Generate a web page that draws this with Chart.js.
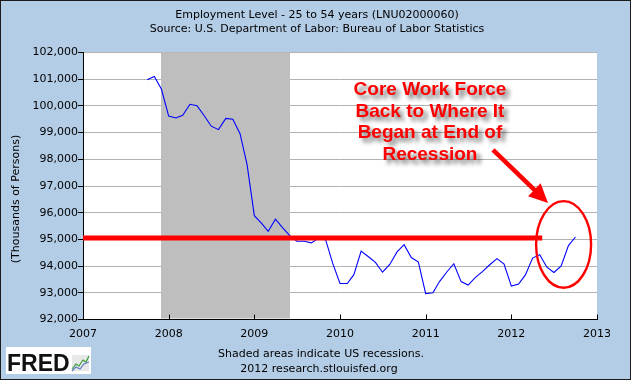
<!DOCTYPE html>
<html><head><meta charset="utf-8">
<script src="https://cdn.jsdelivr.net/npm/chart.js@4"></script>
<style>html,body{margin:0;padding:0;background:#b4cde6;}canvas{display:block}</style>
</head><body>
<canvas id="c" width="631" height="380"></canvas>
<script>
// ---- data ----
const months = [
 '2007-10','2007-11','2007-12',
 '2008-01','2008-02','2008-03','2008-04','2008-05','2008-06','2008-07','2008-08','2008-09','2008-10','2008-11','2008-12',
 '2009-01','2009-02','2009-03','2009-04','2009-05','2009-06','2009-07','2009-08','2009-09','2009-10','2009-11','2009-12',
 '2010-01','2010-02','2010-03','2010-04','2010-05','2010-06','2010-07','2010-08','2010-09','2010-10','2010-11','2010-12',
 '2011-01','2011-02','2011-03','2011-04','2011-05','2011-06','2011-07','2011-08','2011-09','2011-10','2011-11','2011-12',
 '2012-01','2012-02','2012-03','2012-04','2012-05','2012-06','2012-07','2012-08','2012-09','2012-10'];
const employment = [
 100975,101100,100630,
 99620,99550,99650,100060,100010,99630,99240,99110,99530,99500,98960,97800,
 95890,95600,95300,95760,95440,95140,94930,94930,94870,95040,94980,94100,
 93350,93350,93680,94560,94360,94140,93770,94060,94530,94800,94320,94150,
 92970,93000,93420,93780,94090,93420,93290,93580,93800,94050,94280,94080,
 93250,93330,93670,94300,94430,93960,93760,94010,94770,95090];
const yearTicks = [2007,2008,2009,2010,2011,2012,2013];
const yMin = 92000, yMax = 102000, yStep = 1000;
const recession = ['2007-12','2009-06'];
const levelLine = {from:'2007-01', to:'2012-05', value:95050};
const noteLines = ['Core Work Force','Back to Where It','Began at End of','Recession'];
const titleLines = ['Employment Level - 25 to 54 years (LNU02000060)','Source: U.S. Department of Labor: Bureau of Labor Statistics'];
const footerLines = ['Shaded areas indicate US recessions.','2012 research.stlouisfed.org'];
const yAxisTitle = '(Thousands of Persons)';

// month string -> decimal year (date based)
function xOf(s){const [y,m]=s.split('-').map(Number);const t0=Date.UTC(y,0,1),t1=Date.UTC(y+1,0,1);return y+(Date.UTC(y,m-1,1)-t0)/(t1-t0);}

const seriesPts = months.map((m,i)=>({x:xOf(m),y:employment[i]}));
const levelPts = [{x:xOf(levelLine.from),y:levelLine.value},{x:xOf(levelLine.to)+0.03,y:levelLine.value}];

const FONT = 'DejaVu Sans, Verdana, sans-serif';

const decor = {
  id:'decor',
  beforeDraw(chart){
    const {ctx,chartArea:ca}=chart;
    ctx.save();
    ctx.fillStyle='#b4cde6';ctx.fillRect(0,0,chart.width,chart.height);
    ctx.fillStyle='#ffffff';ctx.fillRect(ca.left,ca.top,ca.right-ca.left,ca.bottom-ca.top);
    ctx.restore();
  },
  beforeDatasetsDraw(chart){
    const {ctx,chartArea:ca,scales:{x}}=chart;
    const x0=x.getPixelForValue(xOf(recession[0])), x1=x.getPixelForValue(xOf(recession[1]));
    ctx.save();ctx.fillStyle='#bebebe';
    ctx.fillRect(Math.round(x0),ca.top,Math.round(x1)-Math.round(x0),ca.bottom-ca.top-1);
    ctx.restore();
  },
  afterDatasetsDraw(chart){
    const {ctx,chartArea:ca,scales:{x,y}}=chart;
    ctx.save();
    // inward x ticks
    ctx.strokeStyle='#000';ctx.lineWidth=1;
    yearTicks.forEach(v=>{const px=Math.round(x.getPixelForValue(v))+0.5;ctx.beginPath();ctx.moveTo(px,ca.bottom);ctx.lineTo(px,ca.bottom-5);ctx.stroke();});
    // ellipse annotation around the end of the series
    const cx=x.getPixelForValue(2012.61), cy=y.getPixelForValue(94813);
    const rx=x.getPixelForValue(2012.61+0.321)-cx, ry=cy-y.getPixelForValue(94813+1622);
    ctx.strokeStyle='#ff0000';ctx.lineWidth=2.4;
    ctx.beginPath();ctx.ellipse(cx,cy,rx,ry,0,0,Math.PI*2);ctx.stroke();
    // arrow
    const ax0=x.getPixelForValue(2011.786), ay0=y.getPixelForValue(98352);
    const ax1=x.getPixelForValue(2012.428), ay1=y.getPixelForValue(96367);
    const ang=Math.atan2(ay1-ay0,ax1-ax0), hl=19, hw=9;
    const bx=ax1-hl*Math.cos(ang), by=ay1-hl*Math.sin(ang);
    ctx.lineWidth=4.5;ctx.lineCap='butt';
    ctx.beginPath();ctx.moveTo(ax0,ay0);ctx.lineTo(bx+2*Math.cos(ang),by+2*Math.sin(ang));ctx.stroke();
    ctx.fillStyle='#ff0000';ctx.beginPath();
    ctx.moveTo(ax1,ay1);
    ctx.lineTo(bx+hw*Math.sin(ang),by-hw*Math.cos(ang));
    ctx.lineTo(bx-hw*Math.sin(ang),by+hw*Math.cos(ang));
    ctx.closePath();ctx.fill();
    // note text
    ctx.font='bold 19px "Liberation Sans", Arial, sans-serif';
    ctx.textAlign='center';ctx.textBaseline='alphabetic';
    const tx=x.getPixelForValue(2011.05);
    ctx.shadowColor='rgba(0,0,0,0.55)';ctx.shadowOffsetX=4;ctx.shadowOffsetY=4;ctx.shadowBlur=4;
    ctx.fillStyle='#ff0000';
    noteLines.forEach((t,i)=>ctx.fillText(t,tx,95+i*21.7));
    ctx.restore();
  },
  afterDraw(chart){
    const {ctx,chartArea:ca}=chart;
    ctx.save();
    ctx.fillStyle='#000';ctx.textAlign='center';ctx.textBaseline='alphabetic';
    ctx.font='11px '+FONT;
    ctx.fillText(titleLines[0],317,18);
    ctx.fillText(titleLines[1],317,32);
    ctx.fillText(footerLines[0],321,357);
    ctx.fillText(footerLines[1],319,372);
    // y axis title
    ctx.save();ctx.translate(16,199);ctx.rotate(-Math.PI/2);ctx.textBaseline='middle';ctx.fillText(yAxisTitle,0,0);ctx.restore();
    // FRED logo
    ctx.fillStyle='#ffffff';ctx.fillRect(6,347,85,27);
    ctx.fillStyle='#111';ctx.textAlign='left';
    ctx.font='bold 23px "Liberation Sans", Arial, sans-serif';
    ctx.fillText('FRED',7,371);
    ctx.fillStyle='#e8e8e8';ctx.fillRect(72,355,17,16);
    ctx.lineWidth=1.2;ctx.strokeStyle='#3a9a3a';ctx.beginPath();
    ctx.moveTo(72,369);ctx.lineTo(76,364);ctx.lineTo(79,366);ctx.lineTo(83,360);ctx.lineTo(86,362);ctx.lineTo(89,356);ctx.stroke();
    ctx.strokeStyle='#5a7ec0';ctx.beginPath();
    ctx.moveTo(72,371);ctx.lineTo(76,367);ctx.lineTo(80,369);ctx.lineTo(84,364);ctx.lineTo(89,362);ctx.stroke();
    // outer frame
    ctx.strokeStyle='#1b1b1b';ctx.lineWidth=1;ctx.strokeRect(0.5,0.5,chart.width-1,chart.height-1);
    ctx.restore();
  }
};

new Chart(document.getElementById('c'),{
  type:'line',
  data:{datasets:[
    {data:levelPts,borderColor:'#ff0000',borderWidth:5,pointRadius:0,tension:0,borderCapStyle:'butt'},
    {data:seriesPts,borderColor:'#0000ff',borderWidth:1.1,pointRadius:0,tension:0}
  ]},
  options:{
    responsive:false,animation:false,devicePixelRatio:1,
    layout:{padding:{left:0,right:34,top:52.5,bottom:0}},
    plugins:{legend:{display:false},tooltip:{enabled:false},title:{display:false}},
    scales:{
      x:{type:'linear',min:2007,max:2013,
        afterBuildTicks:s=>{s.ticks=yearTicks.map(v=>({value:v}));},
        ticks:{callback:v=>String(v),font:{family:FONT,size:11},color:'#000',padding:8,maxRotation:0,autoSkip:false},
        grid:{display:true,drawOnChartArea:false,drawTicks:false},
        border:{display:true,color:'#000',width:1},
        afterFit:s=>{s.height=60.5;}},
      y:{min:yMin,max:yMax,
        ticks:{stepSize:yStep,callback:v=>v.toLocaleString('en-US'),font:{family:FONT,size:11},color:'#000',padding:0},
        grid:{color:'#b2b2b2',tickColor:'#000',tickLength:5,lineWidth:1},
        border:{display:true,color:'#000',width:1},
        afterFit:s=>{s.width=83;}}
    }
  },
  plugins:[decor]
});
</script>
</body></html>
